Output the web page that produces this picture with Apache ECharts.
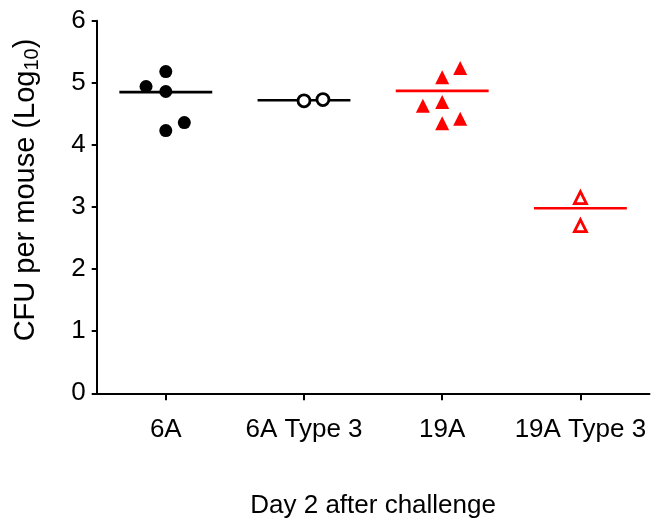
<!DOCTYPE html>
<html>
<head>
<meta charset="utf-8">
<script src="https://cdn.jsdelivr.net/npm/echarts@6/dist/echarts.min.js"></script>
<style>html,body{margin:0;padding:0;background:#fff}#c{width:659px;height:520px}</style>
</head>
<body>
<div id="c"></div>
<script>
const categories = ['6A', '6A Type 3', '19A', '19A Type 3'];
const yTicks = [0, 1, 2, 3, 4, 5, 6];
// [x position (category index, 1-based, with jitter), CFU log10]
const pts6A = [[1.0, 5.18], [0.857, 4.94], [1.0, 4.86], [1.134, 4.36], [1.0, 4.23]];
const pts6AType3 = [[2.0, 4.71], [2.137, 4.73]];
const pts19A = [[3.0, 5.09], [3.13, 5.24], [2.86, 4.63], [3.0, 4.69], [3.0, 4.35], [3.13, 4.42]];
const pts19AType3 = [[4.0, 3.15], [4.0, 2.70]];
const medians = [4.85, 4.72, 4.87, 2.98];

const FONT = 'Liberation Sans, Arial, sans-serif';
const HW = 0.336;
const lineColors = ['#000', '#000', '#ff0000', '#ff0000'];

const chart = echarts.init(document.getElementById('c'), null, {renderer: 'canvas'});

const medianSeries = medians.map((m, i) => ({
  type: 'line',
  data: [[i + 1 - HW, m], [i + 1 + HW, m]],
  symbol: 'none',
  lineStyle: {color: lineColors[i], width: 2.6},
  silent: true,
  z: 1
}));

chart.setOption({
  animation: false,
  grid: {left: 96.7, right: 9.5, top: 20.7, bottom: 126.7, containLabel: false, outerBoundsMode: 'none'},
  xAxis: {
    type: 'value', min: 0.5, max: 4.5,
    name: 'Day 2 after challenge', nameLocation: 'middle', nameGap: 100,
    nameTextStyle: {fontFamily: FONT, fontSize: 26, color: '#000'},
    axisLine: {show: true, onZero: false, lineStyle: {color: '#000', width: 2}},
    axisTick: {show: true, customValues: [1, 2, 3, 4], length: 7, lineStyle: {color: '#000', width: 2}},
    axisLabel: {customValues: [1, 2, 3, 4], formatter: v => categories[Math.round(v) - 1] || '',
      fontFamily: FONT, fontSize: 26, color: '#000', margin: 24},
    splitLine: {show: false}
  },
  yAxis: {
    type: 'value', min: 0, max: 6, interval: 1,
    name: '{a|CFU per mouse (Log}{s|10}{a|)}', nameLocation: 'middle', nameGap: 54,
    nameTextStyle: {fontFamily: FONT, fontSize: 29, color: '#000', padding: [0, 0, 0, 34],
      rich: {a: {fontFamily: FONT, fontSize: 29, color: '#000'},
             s: {fontFamily: FONT, fontSize: 20, color: '#000', padding: [13, 0, 0, 0]}}},
    axisLine: {show: true, lineStyle: {color: '#000', width: 2}},
    axisTick: {show: true, length: 5, lineStyle: {color: '#000', width: 2}},
    axisLabel: {fontFamily: FONT, fontSize: 26, color: '#000', margin: 11,
      formatter: v => yTicks.includes(v) ? String(v) : ''},
    splitLine: {show: false}
  },
  series: [
    ...medianSeries,
    {type: 'scatter', data: pts6A, symbol: 'circle', symbolSize: 13,
     itemStyle: {color: '#000', opacity: 1}, z: 3},
    {type: 'scatter', data: pts6AType3, symbol: 'circle', symbolSize: 12,
     itemStyle: {color: '#fff', borderColor: '#000', borderWidth: 2.8, opacity: 1}, z: 3},
    {type: 'scatter', data: pts19A, symbol: 'triangle', symbolSize: 14,
     itemStyle: {color: '#ff0000', opacity: 1}, z: 3},
    {type: 'scatter', data: pts19AType3, symbol: 'triangle', symbolSize: 12,
     itemStyle: {color: '#fff', borderColor: '#ff0000', borderWidth: 2.8, opacity: 1}, z: 3}
  ]
});
</script>
</body>
</html>
